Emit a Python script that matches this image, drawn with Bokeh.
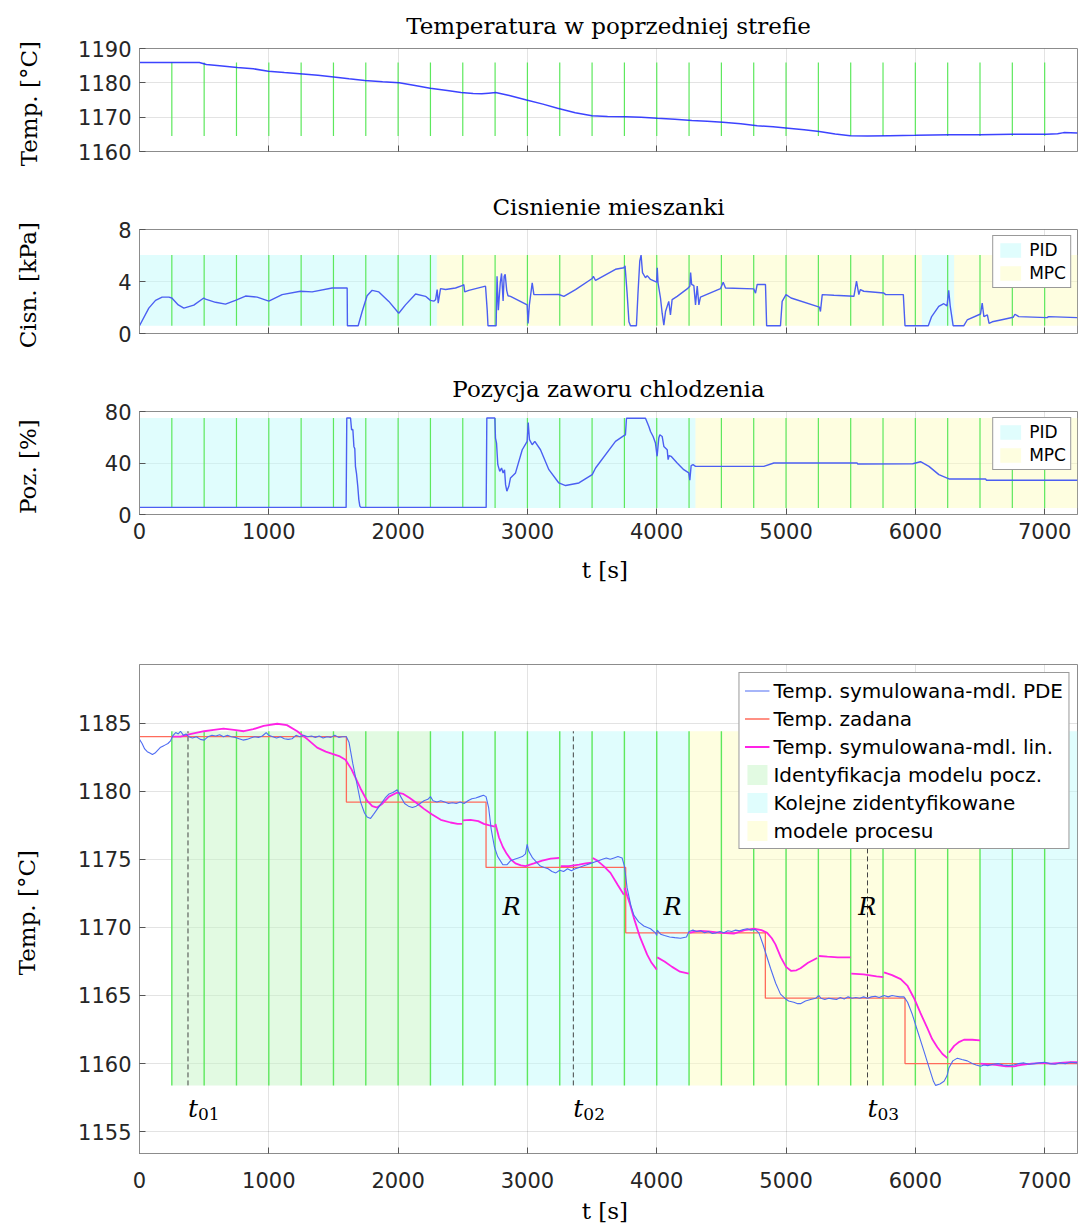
from bokeh.plotting import figure
from bokeh.models import Range1d, FixedTicker, Legend, LegendItem, Label
from bokeh.layouts import column
from bokeh.embed import file_html
from bokeh.resources import INLINE

NAN = float("nan")

# ---------------- data ----------------
x_ticks = [0, 1000, 2000, 3000, 4000, 5000, 6000, 7000]
ident_times = [250, 500, 750, 1000, 1250, 1500, 1750, 2000, 2250, 2500, 2750, 3000, 3250, 3500,
               3750, 4000, 4250, 4500, 4750, 5000, 5250, 5500, 5750, 6000, 6250, 6500, 6750, 7000]

# panel 1: temperature in previous zone
prev_t = [0, 250, 463, 517, 620, 756, 880, 996, 1120, 1262, 1380, 1502, 1620, 1742, 1880, 2008,
          2120, 2248, 2380, 2487, 2580, 2647, 2700, 2754, 2860, 2993, 3120, 3233, 3370, 3499, 3620,
          3765, 3880, 4005, 4140, 4271, 4390, 4511, 4650, 4777, 4900, 5017, 5140, 5257, 5380, 5496,
          5630, 5800, 6002, 6269, 6500, 6748, 7014, 7100, 7148, 7254]
prev_temp = [1185.9, 1185.9, 1185.9, 1185.35, 1185.0, 1184.5, 1184.1, 1183.4, 1183.0, 1182.6,
             1182.2, 1181.7, 1181.2, 1180.7, 1180.3, 1180.0, 1179.3, 1178.4, 1177.8, 1177.2,
             1176.9, 1176.8, 1177.0, 1177.2, 1176.3, 1175.0, 1173.8, 1172.6, 1171.3, 1170.4,
             1170.2, 1170.1, 1170.0, 1169.7, 1169.4, 1169.0, 1168.8, 1168.5, 1168.1, 1167.5,
             1167.2, 1166.8, 1166.3, 1165.8, 1165.1, 1164.6, 1164.5, 1164.6, 1164.7, 1164.9,
             1164.9, 1165.0, 1165.0, 1165.2, 1165.5, 1165.4]

# panel 2: mixture pressure [kPa]
press_pts = [(0, 0.6), (72, 1.95), (124, 2.55), (175, 2.8), (227, 2.8), (250, 2.73), (300, 2.2),
             (343, 1.95), (420, 2.18), (497, 2.73), (510, 2.65), (588, 2.4), (665, 2.26), (742, 2.55),
             (820, 2.88), (910, 2.8), (1000, 2.49), (1103, 2.99), (1245, 3.25), (1335, 3.2),
             (1490, 3.5), (1606, 3.5), (1608, 0.6), (1691, 0.6), (1722, 1.69), (1760, 2.9),
             (1799, 3.32), (1851, 3.2), (1928, 2.47), (2005, 1.56), (2057, 2.2), (2135, 3.04),
             (2212, 2.86), (2250, 2.55), (2276, 2.49), (2290, 2.6), (2302, 3.38), (2310, 2.34),
             (2328, 3.45), (2367, 3.38), (2444, 3.5), (2500, 3.7), (2508, 3.77), (2515, 3.2),
             (2547, 3.32), (2676, 3.64), (2689, 1.8), (2695, 0.6), (2758, 0.6), (2765, 4.4),
             (2775, 1.8), (2790, 3.9), (2800, 4.62), (2812, 2.5), (2820, 4.4), (2828, 4.55),
             (2840, 3.3), (2850, 2.9), (2869, 2.86), (2998, 2.2), (3005, 0.78), (3015, 2.2),
             (3037, 3.9), (3050, 2.99), (3089, 2.99), (3243, 3.0), (3282, 2.86), (3372, 3.38),
             (3501, 4.23), (3510, 4.4), (3527, 4.08), (3681, 4.94), (3746, 5.06), (3755, 5.2),
             (3771, 3.1), (3785, 0.9), (3797, 0.6), (3843, 0.6), (3855, 3.1), (3869, 5.58),
             (3879, 6.03), (3890, 4.68), (3913, 4.29), (3926, 4.45), (3952, 4.16), (3999, 3.95),
             (4004, 5.06), (4010, 3.9), (4029, 2.73), (4042, 1.56), (4055, 0.65), (4068, 1.69),
             (4093, 2.47), (4106, 1.43), (4119, 2.6), (4158, 2.86), (4235, 3.43), (4256, 3.64),
             (4262, 4.68), (4270, 3.77), (4287, 3.68), (4300, 2.2), (4313, 3.64), (4326, 2.2),
             (4338, 2.8), (4493, 3.45), (4514, 3.95), (4532, 3.5), (4751, 3.43), (4764, 3.1),
             (4777, 3.77), (4841, 3.77), (4850, 0.6), (4957, 0.6), (4970, 2.47), (5000, 2.99),
             (5039, 2.73), (5258, 2.03), (5266, 1.69), (5280, 2.99), (5370, 2.94), (5525, 2.86),
             (5545, 4.03), (5563, 2.99), (5575, 3.38), (5601, 3.25), (5756, 3.12), (5770, 2.99),
             (5907, 2.99), (5920, 0.6), (6100, 0.6), (6126, 1.3), (6181, 2.08), (6220, 2.29),
             (6245, 2.13), (6258, 3.32), (6270, 2.08), (6292, 0.6), (6375, 0.6), (6401, 1.04),
             (6504, 1.5), (6517, 2.34), (6530, 1.3), (6557, 1.43), (6570, 0.78), (6595, 0.9),
             (6660, 1.04), (6757, 1.25), (6770, 1.48), (6800, 1.3), (7019, 1.22), (7030, 1.3),
             (7252, 1.22)]

# panel 3: cooling valve position [%]
valve_pts = [(0, 5.5), (1598, 5.5), (1603, 75), (1632, 75), (1640, 65.8), (1650, 66), (1658, 52.9),
             (1665, 51), (1670, 37.4), (1678, 32), (1688, 21.9), (1696, 11.6), (1704, 6.5),
             (1712, 5.5), (2681, 5.5), (2686, 75), (2748, 75), (2753, 59.4), (2761, 55.5),
             (2771, 38.7), (2786, 33.5), (2800, 36.1), (2812, 32.3), (2823, 34.8), (2831, 23.2),
             (2841, 18.1), (2856, 21.9), (2869, 28.4), (2908, 32.3), (2960, 50.3), (2998, 56.8),
             (3006, 71.5), (3016, 58.1), (3037, 54.2), (3057, 56.8), (3101, 50.3), (3166, 34.8),
             (3243, 24.5), (3295, 22.5), (3398, 24.5), (3501, 31), (3527, 36.1), (3681, 56.8),
             (3746, 61.2), (3758, 61.9), (3766, 74.8), (3913, 74.8), (3939, 68.4), (3952, 64.5),
             (3972, 60.6), (3990, 55.5), (4003, 45.2), (4016, 59.4), (4024, 61.9), (4042, 60.6),
             (4055, 52.9), (4081, 50.3), (4088, 42.6), (4096, 45.8), (4111, 45.2), (4158, 40),
             (4209, 34.8), (4248, 32.3), (4256, 26.6), (4266, 37.9), (4281, 38.7), (4300, 37.4),
             (4828, 37.4), (4906, 40), (5550, 40), (5555, 39.2), (5980, 39.4), (6040, 41),
             (6105, 37.4), (6182, 31), (6260, 27.6), (6543, 27.6), (6550, 26.6), (7254, 26.6)]

# control mode regions
p2_pid = [(0, 2300), (6050, 6300)]
p2_mpc = [(2300, 6050), (6300, 7254)]
p3_pid = [(0, 4300)]
p3_mpc = [(4300, 7254)]

# panel 4: temperatures
sp_t = [0, 1600, 2680, 3760, 4840, 5920, 7254]
sp_T = [1184.0, 1179.2, 1174.4, 1169.6, 1164.8, 1160.0, 1160.0]

pde_pts = [(0, 1183.8), (20, 1183.5), (40, 1183.1), (60, 1182.9), (80, 1182.8), (100, 1182.7),
           (120, 1182.8), (140, 1183.0), (160, 1183.2), (180, 1183.3), (200, 1183.4), (220, 1183.5),
           (240, 1183.7), (260, 1184.1), (280, 1184.3), (300, 1184.2), (317, 1184.4), (340, 1184.1),
           (360, 1184.2), (380, 1184.0), (410, 1183.9), (440, 1184.0), (470, 1183.8), (500, 1183.75),
           (530, 1184.0), (560, 1184.1), (590, 1184.05), (620, 1184.15), (650, 1184.0), (680, 1184.1),
           (710, 1184.0), (740, 1183.95), (770, 1183.85), (800, 1183.75), (830, 1183.8), (860, 1183.9),
           (890, 1184.0), (920, 1183.95), (950, 1184.05), (980, 1184.3), (1000, 1184.1), (1030, 1184.0),
           (1060, 1183.9), (1090, 1184.0), (1120, 1183.85), (1150, 1183.8), (1180, 1183.85),
           (1210, 1184.1), (1240, 1184.0), (1270, 1184.1), (1300, 1184.0), (1330, 1184.05),
           (1360, 1183.95), (1390, 1184.05), (1420, 1183.9), (1450, 1184.0), (1480, 1183.95),
           (1510, 1184.1), (1540, 1183.95), (1570, 1184.0), (1600, 1184.0), (1620, 1183.6),
           (1650, 1182.0), (1680, 1180.6), (1710, 1179.2), (1740, 1178.4), (1760, 1178.1),
           (1787, 1178.0), (1810, 1178.3), (1840, 1178.7), (1870, 1179.1), (1900, 1179.5),
           (1930, 1179.8), (1960, 1179.9), (1993, 1180.1), (2020, 1179.6), (2050, 1179.1),
           (2080, 1178.9), (2110, 1178.8), (2140, 1178.9), (2170, 1179.1), (2200, 1179.3),
           (2230, 1179.4), (2250, 1179.6), (2270, 1179.3), (2300, 1179.2), (2330, 1179.3),
           (2360, 1179.2), (2390, 1179.1), (2420, 1179.15), (2450, 1179.1), (2480, 1179.2),
           (2510, 1179.1), (2540, 1179.3), (2570, 1179.45), (2600, 1179.5), (2630, 1179.6),
           (2660, 1179.7), (2680, 1179.6), (2700, 1178.8), (2720, 1177.2), (2745, 1175.9),
           (2770, 1175.2), (2790, 1174.9), (2810, 1174.6), (2843, 1174.6), (2870, 1174.9),
           (2900, 1175.0), (2930, 1175.1), (2960, 1175.2), (2985, 1175.4), (2998, 1176.1),
           (3010, 1175.6), (3040, 1175.1), (3070, 1174.8), (3100, 1174.5), (3130, 1174.4),
           (3160, 1174.3), (3190, 1174.1), (3220, 1174.0), (3250, 1174.2), (3280, 1174.1),
           (3310, 1174.3), (3340, 1174.15), (3370, 1174.3), (3400, 1174.4), (3430, 1174.5),
           (3460, 1174.6), (3490, 1174.7), (3520, 1174.8), (3550, 1174.9), (3580, 1175.0),
           (3610, 1175.1), (3640, 1175.0), (3670, 1175.1), (3700, 1175.2), (3732, 1175.1),
           (3750, 1174.5), (3771, 1172.9), (3800, 1171.6), (3823, 1170.9), (3860, 1170.4),
           (3900, 1170.1), (3952, 1169.9), (3990, 1169.6), (4000, 1169.4), (4003, 1169.8),
           (4030, 1169.5), (4060, 1169.4), (4100, 1169.3), (4140, 1169.25), (4184, 1169.2),
           (4230, 1169.3), (4250, 1169.7), (4280, 1169.8), (4310, 1169.7), (4340, 1169.75),
           (4370, 1169.6), (4400, 1169.7), (4430, 1169.55), (4460, 1169.6), (4490, 1169.7),
           (4520, 1169.6), (4550, 1169.75), (4580, 1169.7), (4610, 1169.8), (4640, 1169.75),
           (4670, 1169.85), (4699, 1169.9), (4730, 1169.8), (4760, 1169.85), (4790, 1169.6),
           (4820, 1168.8), (4850, 1167.9), (4880, 1167.0), (4920, 1165.9), (4957, 1165.1),
           (4990, 1164.8), (5020, 1164.6), (5060, 1164.5), (5090, 1164.4), (5112, 1164.4),
           (5150, 1164.6), (5190, 1164.7), (5230, 1164.8), (5254, 1165.0), (5270, 1164.8),
           (5300, 1164.7), (5330, 1164.8), (5360, 1164.75), (5390, 1164.7), (5420, 1164.85),
           (5450, 1164.75), (5480, 1164.9), (5510, 1164.8), (5540, 1164.85), (5570, 1164.8),
           (5600, 1164.9), (5630, 1164.8), (5660, 1164.9), (5690, 1164.95), (5720, 1164.85),
           (5758, 1165.0), (5790, 1164.9), (5820, 1165.0), (5850, 1164.95), (5880, 1164.9),
           (5912, 1164.9), (5940, 1164.5), (5977, 1163.6), (6020, 1162.3), (6067, 1160.9),
           (6110, 1159.6), (6140, 1158.7), (6157, 1158.4), (6190, 1158.5), (6222, 1158.7),
           (6245, 1159.1), (6260, 1159.7), (6290, 1160.2), (6325, 1160.4), (6360, 1160.3),
           (6402, 1160.2), (6440, 1160.0), (6470, 1159.9), (6505, 1159.8), (6530, 1159.9),
           (6560, 1159.85), (6600, 1159.95), (6640, 1160.0), (6680, 1159.9), (6720, 1159.85),
           (6760, 1159.9), (6800, 1160.0), (6840, 1160.05), (6880, 1159.95), (6920, 1160.0),
           (6960, 1160.05), (7000, 1160.1), (7040, 1160.0), (7080, 1159.95), (7120, 1160.05),
           (7160, 1160.0), (7200, 1160.1), (7254, 1160.05)]

lin_segments = [
    [(250, 1184.0), (317, 1184.0), (400, 1184.2), (500, 1184.4), (575, 1184.5), (650, 1184.6),
     (730, 1184.5), (807, 1184.4), (880, 1184.55), (960, 1184.8), (1065, 1184.95), (1140, 1184.85),
     (1220, 1184.4), (1300, 1183.8), (1374, 1183.2), (1440, 1182.9), (1503, 1182.7), (1550, 1182.55),
     (1593, 1182.3), (1640, 1181.6), (1709, 1180.2), (1760, 1179.3), (1800, 1178.9), (1838, 1178.8),
     (1880, 1179.1), (1930, 1179.6), (1993, 1179.9), (2040, 1179.8), (2090, 1179.5), (2148, 1179.1),
     (2200, 1178.7), (2260, 1178.3), (2330, 1177.9), (2405, 1177.7), (2460, 1177.6), (2496, 1177.6)],
    [(2500, 1177.85), (2560, 1177.9), (2620, 1177.8), (2663, 1177.6), (2700, 1177.5), (2748, 1177.4)],
    [(2753, 1177.6), (2780, 1176.6), (2810, 1175.9), (2840, 1175.4), (2870, 1175.0), (2907, 1174.7),
     (2950, 1174.55), (2985, 1174.5), (3050, 1174.7), (3114, 1174.9), (3180, 1175.05), (3245, 1175.1)],
    [(3258, 1174.5), (3320, 1174.5), (3400, 1174.6), (3450, 1174.7), (3495, 1174.75)],
    [(3505, 1175.1), (3540, 1174.9), (3590, 1174.5), (3642, 1174.0), (3700, 1173.1), (3746, 1172.4)],
    [(3752, 1172.9), (3790, 1171.8), (3823, 1170.7), (3870, 1169.3), (3926, 1168.0), (3960, 1167.4),
     (4000, 1166.9)],
    [(4004, 1167.8), (4060, 1167.5), (4119, 1167.1), (4180, 1166.75), (4248, 1166.6)],
    [(4252, 1169.6), (4300, 1169.7), (4338, 1169.75), (4400, 1169.7), (4500, 1169.6), (4596, 1169.55),
     (4680, 1169.8), (4751, 1169.9), (4810, 1169.8), (4854, 1169.6), (4890, 1169.2), (4918, 1168.75),
     (4960, 1167.8), (5000, 1167.1), (5040, 1166.8), (5080, 1166.85), (5112, 1167.0), (5170, 1167.4),
     (5241, 1167.75)],
    [(5254, 1167.9), (5320, 1167.85), (5400, 1167.8), (5499, 1167.8)],
    [(5504, 1166.6), (5600, 1166.55), (5700, 1166.4), (5752, 1166.35)],
    [(5758, 1166.7), (5820, 1166.5), (5887, 1166.2), (5940, 1165.7), (5990, 1164.8), (6040, 1163.7),
     (6093, 1162.6), (6130, 1161.8), (6170, 1161.2), (6210, 1160.7), (6248, 1160.4)],
    [(6260, 1160.8), (6300, 1161.3), (6340, 1161.6), (6376, 1161.75), (6440, 1161.75), (6500, 1161.7)],
    [(6505, 1160.0), (6560, 1159.95), (6620, 1159.9), (6700, 1159.8), (6763, 1159.8), (6820, 1159.9),
     (6900, 1160.0), (6980, 1160.05), (7050, 1160.0), (7120, 1160.05), (7200, 1160.1), (7254, 1160.1)],
]

ident_init = [(250, 2250)]
ident_next_a = [(2250, 4250), (6500, 7254)]
ident_next_b = [(4250, 6500)]

t0_times = [375, 3355, 5630]
t0_subs = ["01", "02", "03"]
r_times = [2877, 4122, 5628]
r_level = 1171.5
t0_label_level = 1156.7

# ---------------- styling helpers ----------------
GREEN_LINE = "#5de85d"
CYAN = "#c2fcfc"
YELLOW = "#fdfdc2"
GREEN = "#c5f5c5"
AXC = "#8c8c8c"


def make_fig(title, yr, yticks, ylabel, frame_h, top, bottom, ylab_stand,
             xlabels=False, xlab_stand=10, xlabel_standoff=8):
    p = figure(frame_width=938, frame_height=frame_h, x_range=Range1d(0, 7254),
               y_range=Range1d(*yr), output_backend="svg", toolbar_location=None,
               min_border_left=139, min_border_right=1, min_border_top=top,
               min_border_bottom=bottom)
    p.title.text = title
    p.title.text_font = "DejaVu Serif"
    p.title.text_font_size = "23px"
    p.title.text_font_style = "normal"
    p.title.align = "center"
    p.title.text_color = "#000000"
    p.title.standoff = 20
    p.outline_line_color = AXC
    p.background_fill_color = "white"
    p.border_fill_color = "white"
    for ax in (p.xaxis[0], p.yaxis[0]):
        ax.axis_line_color = AXC
        ax.major_tick_in = 6
        ax.major_tick_out = 0
        ax.major_tick_line_color = "#555555"
        ax.minor_tick_line_color = None
        ax.major_label_text_font = "DejaVu Sans"
        ax.major_label_text_font_size = "21px"
        ax.major_label_text_color = "#262626"
        ax.axis_label_text_font = "DejaVu Serif"
        ax.axis_label_text_font_size = "23px"
        ax.axis_label_text_font_style = "normal"
        ax.axis_label_text_color = "#000000"
    p.xaxis.ticker = FixedTicker(ticks=x_ticks)
    p.yaxis.ticker = FixedTicker(ticks=yticks)
    p.xgrid.ticker = FixedTicker(ticks=x_ticks)
    p.ygrid.ticker = FixedTicker(ticks=yticks)
    for g in (p.xgrid[0], p.ygrid[0]):
        g.grid_line_color = "#262626"
        g.grid_line_alpha = 0.13
    p.yaxis.axis_label = ylabel
    p.yaxis.axis_label_standoff = ylab_stand
    p.yaxis.major_label_standoff = 8
    if xlabels:
        p.xaxis.axis_label = "t  [s]"
        p.xaxis.major_label_standoff = xlabel_standoff
        p.xaxis.axis_label_standoff = xlab_stand
    else:
        p.xaxis.major_label_text_color = None
        p.xaxis.major_label_standoff = 0
    return p


def quads(p, regions, y0, y1, color):
    return p.quad(left=[a for a, b in regions], right=[b for a, b in regions],
                  bottom=[y0] * len(regions), top=[y1] * len(regions),
                  fill_color=color, fill_alpha=0.5, line_color=None)


def green_lines(p, y0, y1, width=1.2):
    p.segment(x0=ident_times, x1=ident_times, y0=[y0] * len(ident_times),
              y1=[y1] * len(ident_times), line_color=GREEN_LINE, line_width=width)


def small_legend(p, r_pid, r_mpc):
    lg = Legend(items=[LegendItem(label="PID", renderers=[r_pid]),
                       LegendItem(label="MPC", renderers=[r_mpc])],
                location="top_right", margin=6, padding=4, spacing=3,
                glyph_width=26, glyph_height=18, label_height=18, label_standoff=6,
                label_text_font="DejaVu Sans", label_text_font_size="17px",
                label_text_color="#000000",
                border_line_color="#333333", border_line_width=1,
                background_fill_color="white", background_fill_alpha=1)
    p.add_layout(lg)


# ---------------- panel 1 ----------------
p1 = make_fig("Temperatura w poprzedniej strefie", (1160, 1190), [1160, 1170, 1180, 1190],
              "Temp.  [°C]", 103, 47, 30, 33)
green_lines(p1, min(prev_temp), max(prev_temp))
p1.line(prev_t, prev_temp, line_color="#1a22ff", line_width=1.5, line_alpha=0.85)

# ---------------- panel 2 ----------------
press_t = [a for a, b in press_pts]
press_v = [b for a, b in press_pts]
pl, ph = min(press_v), max(press_v)
p2 = make_fig("Cisnienie mieszanki", (0, 8), [0, 4, 8], "Cisn.  [kPa]", 104, 48, 30, 74)
r_pid2 = quads(p2, p2_pid, pl, ph, CYAN)
r_mpc2 = quads(p2, p2_mpc, pl, ph, YELLOW)
green_lines(p2, pl, ph)
p2.line(press_t, press_v, line_color="#4b5ff2", line_width=1.4)
small_legend(p2, r_pid2, r_mpc2)

# ---------------- panel 3 ----------------
valve_t = [a for a, b in valve_pts]
valve_v = [b for a, b in valve_pts]
vl, vh = min(valve_v) - 0.5, max(valve_v)
p3 = make_fig("Pozycja zaworu chlodzenia", (0, 80), [0, 40, 80], "Poz.  [%]", 103, 48, 87, 61,
              xlabels=True, xlab_stand=15, xlabel_standoff=8)
r_pid3 = quads(p3, p3_pid, vl, vh, CYAN)
r_mpc3 = quads(p3, p3_mpc, vl, vh, YELLOW)
green_lines(p3, vl, vh)
p3.line(valve_t, valve_v, line_color="#4b5ff2", line_width=1.4)
small_legend(p3, r_pid3, r_mpc3)

# ---------------- panel 4 ----------------
pde_t = [a for a, b in pde_pts]
pde_T = [b for a, b in pde_pts]
lo, hi = min(pde_T), max(pde_T)
p4 = make_fig("", (1153.4, 1189.3), [1155, 1160, 1165, 1170, 1175, 1180, 1185], "Temp.  [°C]",
              489, 63, 71, 35, xlabels=True, xlab_stand=7, xlabel_standoff=18)
r_g = quads(p4, ident_init, lo, hi, GREEN)
r_c = quads(p4, ident_next_a, lo, hi, CYAN)
r_y = quads(p4, ident_next_b, lo, hi, YELLOW)
green_lines(p4, lo, hi, width=1.4)
p4.segment(x0=t0_times, x1=t0_times, y0=[lo] * 3, y1=[hi] * 3, line_color="#444444",
           line_width=1, line_dash="5 3")

lin_x, lin_y = [], []
for seg in lin_segments:
    lin_x += [a for a, b in seg] + [NAN]
    lin_y += [b for a, b in seg] + [NAN]

r_sp = p4.step(sp_t, sp_T, mode="after", line_color="#ff6b5b", line_width=1.3)
r_lin = p4.line(lin_x, lin_y, line_color="#ff22e6", line_width=1.8)
r_pde = p4.line(pde_t, pde_T, line_color="#4f6cf3", line_width=1.1)

for tx, sub in zip(t0_times, t0_subs):
    p4.add_layout(Label(x=tx, y=t0_label_level, text="t", text_font="DejaVu Serif",
                        text_font_style="italic", text_font_size="25px",
                        text_baseline="alphabetic", text_color="#000000"))
    p4.add_layout(Label(x=tx, y=t0_label_level, x_offset=10, y_offset=-5, text=sub,
                        text_font="DejaVu Serif", text_font_size="17px",
                        text_baseline="alphabetic", text_color="#000000"))
for rx in r_times:
    p4.add_layout(Label(x=rx, y=r_level, text="R", text_font="DejaVu Serif",
                        text_font_style="italic", text_font_size="24px",
                        text_align="center", text_baseline="middle", text_color="#000000"))

lg4 = Legend(items=[LegendItem(label="Temp. symulowana-mdl. PDE", renderers=[r_pde]),
                    LegendItem(label="Temp. zadana", renderers=[r_sp]),
                    LegendItem(label="Temp. symulowana-mdl. lin.", renderers=[r_lin]),
                    LegendItem(label="Identyfikacja modelu pocz.", renderers=[r_g]),
                    LegendItem(label="Kolejne zidentyfikowane", renderers=[r_c]),
                    LegendItem(label="modele procesu", renderers=[r_y])],
             location="top_right", margin=8, padding=5, spacing=3,
             glyph_width=25, glyph_height=25, label_height=25, label_standoff=4,
             label_text_font="DejaVu Sans", label_text_font_size="20px",
             label_text_color="#000000",
             border_line_color="#333333", border_line_width=1,
             background_fill_color="white", background_fill_alpha=1)
p4.add_layout(lg4)

layout = column(p1, p2, p3, p4, spacing=0)
open("out.html", "w").write(file_html(layout, INLINE))
